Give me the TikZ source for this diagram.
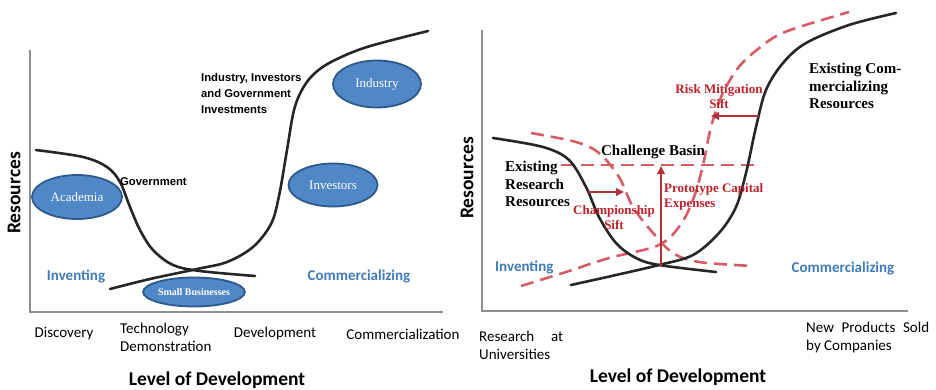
\documentclass[tikz,border=0pt]{standalone}
\usepackage{fontspec}
\setmainfont{Liberation Serif}
\newfontfamily\calib{Carlito}
\newfontfamily\arialf{Liberation Sans}
\usetikzlibrary{arrows.meta,shapes.geometric}
\definecolor{axisgray}{HTML}{8E8E8E}
\definecolor{ellfill}{HTML}{4F87C7}
\definecolor{elledge}{HTML}{2C5A8C}
\definecolor{labblue}{HTML}{3F7BBE}
\definecolor{shiftred}{HTML}{D65C66}
\definecolor{arrowred}{HTML}{B3303A}
\definecolor{textred}{HTML}{C0202A}
\tikzset{
  axisline/.style={draw=axisgray, line width=2.8pt},
  curve/.style={draw=black!85, line width=2.6pt, line cap=round},
  shifted/.style={draw=shiftred, line width=2.6pt, dash pattern=on 13pt off 7pt},
  moveto/.style={draw=arrowred, line width=2pt, -{Triangle[length=8pt,width=7.5pt]}},
  actor/.style={ellipse, draw=elledge, line width=1.8pt, fill=ellfill, text=white, inner sep=0pt},
  stage/.style={font=\calib\fontsize{15}{18}\selectfont, inner sep=0pt},
  phase/.style={font=\calib\bfseries\fontsize{15}{18}\selectfont, text=labblue, inner sep=0pt},
  axtitle/.style={font=\calib\bfseries\fontsize{19.5}{22}\selectfont, inner sep=0pt},
  funder/.style={font=\arialf\bfseries\fontsize{11.3}{16}\selectfont, inner sep=0pt, align=left},
  pool/.style={font=\bfseries\fontsize{15}{17.5}\selectfont, inner sep=0pt, align=left},
  shiftlab/.style={font=\bfseries\fontsize{13}{15}\selectfont, text=textred, inner sep=0pt},
}
\begin{document}
\begin{tikzpicture}[x=1pt,y=-1pt]
\useasboundingbox (0,0) rectangle (936,389);

% ---------------- left panel: actors along the development path
\draw[axisline] (30,50) -- (30,312) -- (443,312);
\node[axtitle, rotate=90] (resL) at (14,193) {Resources};
\node[axtitle] (levL) at (217,380) {Level of Development};

% academic resources fall off, commercial resources rise
\draw[curve] plot[smooth, tension=0.55] coordinates {(36,150) (83,157) (107,167) (120,182) (130,207) (140,230) (153,250) (173,265) (200,271) (255,276)};
\draw[curve] plot[smooth, tension=0.55] coordinates {(110,289) (150,279) (197,269) (227,262) (253,247) (271,224) (279,196) (287,150) (294,110) (303,88) (315,73) (333,61) (367,47) (428,31)};

\node[actor, minimum width=90pt, minimum height=44pt, font=\fontsize{13}{15}\selectfont] (acad) at (77,197) {Academia};
\node[actor, minimum width=89pt, minimum height=43pt, font=\fontsize{13}{15}\selectfont] (inv) at (333,185) {Investors};
\node[actor, minimum width=88pt, minimum height=47pt, font=\fontsize{13}{15}\selectfont] (ind) at (377,84) {Industry};
\node[actor, minimum width=100pt, minimum height=29pt, font=\bfseries\fontsize{10}{12}\selectfont] (smb) at (194,292) {Small Businesses};

\node[funder, anchor=west] (gov) at (120,182) {Government};
\node[funder, anchor=north west] (iig) at (201,73) {Industry, Investors\\and Government\\Investments};

\node[phase] (invL) at (76,276) {Inventing};
\node[phase] (comL) at (359,277) {Commercializing};

\node[stage] (s1) at (64,334) {Discovery};
\node[stage, anchor=north west, align=left] (s2) at (120,323) {Technology\\Demonstration};
\node[stage] (s3) at (275,333) {Development};
\node[stage] (s4) at (403,334) {Commercialization};

% ---------------- right panel: shifting the curves across the basin
\draw[axisline] (482,30) -- (482,311) -- (908,311);
\node[axtitle, rotate=90] (resR) at (467,178) {Resources};
\node[axtitle] (levR) at (678,377) {Level of Development};

% shifted resource curves
\draw[shifted] plot[smooth, tension=0.55] coordinates {(531,133) (576,142) (599,153) (619,177) (633,207) (653,233) (673,253) (699,262) (753,266)};
\draw[shifted] plot[smooth, tension=0.55] coordinates {(521,286) (566,272) (609,258) (659,245) (681,224) (694,197) (703,165) (711,127) (722,95) (738,68) (758,49) (785,32) (849,12)};
\coordinate (capL) at (561,165);
\coordinate (capR) at (756,165);
\draw[shifted] (capL) -- (capR);

% existing resource curves
\draw[curve] plot[smooth, tension=0.55] coordinates {(493,138) (543,147) (569,160) (586,187) (599,217) (616,243) (636,258) (659,265) (716,272)};
\draw[curve] plot[smooth, tension=0.55] coordinates {(571,285) (616,275) (659,265) (693,255) (719,233) (736,207) (746,173) (756,127) (766,90) (783,63) (806,43) (849,25) (896,13)};

% shift arrows
\coordinate (chA) at (588,192);
\coordinate (chB) at (624,192);
\coordinate (prA) at (661,266);
\coordinate (prB) at (661,166);
\coordinate (rmA) at (759,116);
\coordinate (rmB) at (711,116);
\draw[moveto] (chA) -- (chB);
\draw[moveto] (prA) -- (prB);
\draw[moveto] (rmA) -- (rmB);

\node[pool] (basin) at (653,152) {Challenge Basin};
\node[pool, anchor=north west] (exres) at (505,161) {Existing\\Research\\Resources};
\node[pool, anchor=north west] (excom) at (809,63) {Existing Com-\\mercializing\\Resources};

\node[shiftlab, align=center] (risk) at (719,97) {Risk Mitigation\\Sift};
\node[shiftlab, align=left, anchor=north west] (proto) at (664,183) {Prototype Capital\\Expenses};
\node[shiftlab, align=center] (champ) at (614,218) {Championship\\Sift};

\node[phase, anchor=west] (invR) at (495,267) {Inventing};
\node[phase] (comR) at (843,269) {Commercializing};

\node[stage, anchor=north west, align=left] (rU) at (479,331) {\makebox[84pt][s]{Research at}\\Universities};
\node[stage, anchor=north west, align=left] (rC) at (806,322) {\makebox[123pt][s]{New Products Sold}\\by Companies};
\end{tikzpicture}
\end{document}
